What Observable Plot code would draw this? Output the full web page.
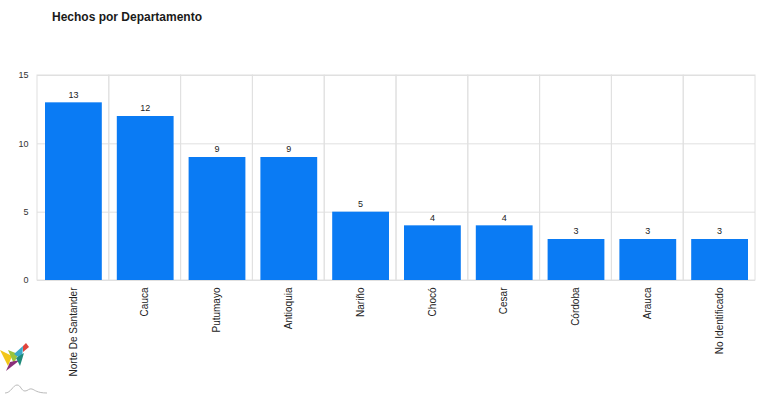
<!DOCTYPE html>
<html>
<head>
<meta charset="utf-8">
<script src="https://cdn.jsdelivr.net/npm/d3@7"></script>
<script src="https://cdn.jsdelivr.net/npm/@observablehq/plot@0.6"></script>
<style>
  html, body { margin: 0; padding: 0; background: #fff; }
  body { width: 768px; height: 398px; position: relative; overflow: hidden; font-family: "Liberation Sans", Arial, sans-serif; }
  #title { position: absolute; left: 52px; top: 10px; font-size: 12px; font-weight: 700; color: #1a1a1a; font-family: "Liberation Sans", Arial, sans-serif; }
  #chart { position: absolute; left: 0; top: 0; }
  #logo { position: absolute; left: 0; top: 340px; }
</style>
</head>
<body>
<div id="chart"></div>
<div id="title">Hechos por Departamento</div>
<svg id="logo" width="50" height="58" viewBox="0 0 50 58">
  <polygon points="0,10 12,16 8,26" fill="#f2c618"/>
  <polygon points="8,10 18,14 14,24" fill="#9ac43c"/>
  <polygon points="14,14 23,6 22,20" fill="#3aa8c9"/>
  <polygon points="23,6 26,3 29,7 23,12" fill="#e0443c"/>
  <polygon points="10,22 20,20 6,31" fill="#8a2f7a"/>
  <polygon points="16,18 24,13 20,26" fill="#1f8a7a"/>
  <path d="M5,53 C11,53 13,45 17,45 C21,45 21,51 25,51 C28,51 29,48 32,49 C35,50 37,53 47,53" fill="none" stroke="#bbb" stroke-width="1"/>
</svg>
<script>
const categories = ["Norte De Santander", "Cauca", "Putumayo", "Antioquia", "Nariño", "Chocó", "Cesar", "Córdoba", "Arauca", "No Identificado"];
const values = [13, 12, 9, 9, 5, 4, 4, 3, 3, 3];
const yTicks = [0, 5, 10, 15];

const data = categories.map((c, i) => ({ cat: c, value: values[i] }));

const chart = Plot.plot({
  width: 768,
  height: 398,
  marginTop: 75,
  marginLeft: 37,
  marginRight: 13,
  marginBottom: 118,
  style: { fontFamily: "'Liberation Sans', Arial, sans-serif", fontSize: "9px", color: "#333", background: "transparent" },
  x: { domain: categories, padding: 0, round: false, label: null, tickSize: 0, tickPadding: 7, tickRotate: -90 },
  y: { domain: [0, 15], ticks: yTicks, label: null, tickSize: 0, tickPadding: 9 },
  marks: [
    Plot.ruleY(yTicks, { stroke: "#e0e0e0", strokeWidth: 1 }),
    Plot.barY(categories, { x: d => d, y1: 0, y2: 15, fill: "none", stroke: "#e0e0e0", strokeWidth: 1 }),
    Plot.barY(data, { x: "cat", y: "value", fill: "#0a7bf4", insetLeft: 8, insetRight: 7 }),
    Plot.text(data, { x: "cat", y: "value", text: d => String(d.value), dy: -8, fontSize: 9, fill: "#222" }),
    Plot.axisX({ tickRotate: -90, tickSize: 0, tickPadding: 7, fontSize: 10, textAnchor: "end", label: null, fill: "#222" }),
    Plot.axisY({ ticks: yTicks, tickSize: 0, tickPadding: 9, fontSize: 9, label: null, fill: "#333" })
  ]
});
document.getElementById("chart").appendChild(chart);
</script>
</body>
</html>
